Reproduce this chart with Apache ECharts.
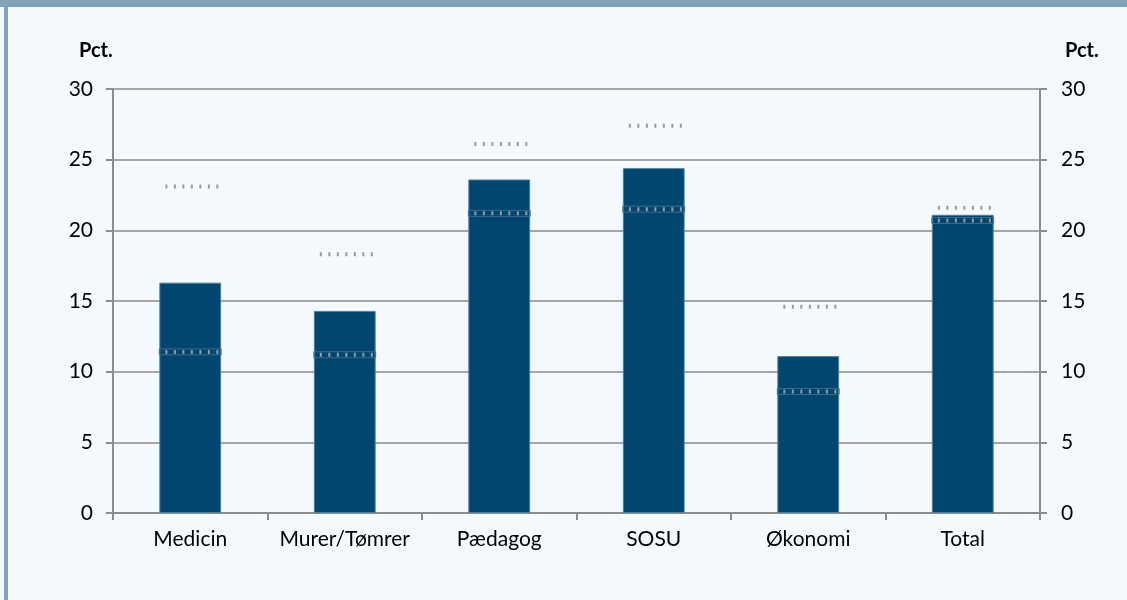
<!DOCTYPE html>
<html>
<head>
<meta charset="utf-8">
<script src="https://cdn.jsdelivr.net/npm/echarts@6/dist/echarts.min.js"></script>
<style>
  html, body { margin: 0; padding: 0; background: #f3f9fd; }
  #chart { width: 1127px; height: 600px; }
</style>
</head>
<body>
<div id="chart"></div>
<script>
// data
const categories = ['Medicin', 'Murer/Tømrer', 'Pædagog', 'SOSU', 'Økonomi', 'Total']
const barValues = [16.3, 14.3, 23.6, 24.4, 11.1, 21.1]
const upperMarks = [23.1, 18.3, 26.1, 27.4, 14.6, 21.6]
const lowerMarks = [11.4, 11.2, 21.2, 21.5, 8.6, 20.7]
const yTicks = [0, 5, 10, 15, 20, 25, 30]

const font = 'Lato, "Open Sans", sans-serif'
const barColor = '#00466e'
const gridColor = '#a6a6a6'
const axisColor = '#8c8c8c'

// dotted marker drawn across the bar width
function markerItem(inside) {
  return function (params, api) {
    const p = api.coord([api.value(0), api.value(1)])
    const w = api.size([1, 0])[0] * 0.4
    const x0 = p[0] - w / 2
    const children = []
    if (inside) {
      children.push({
        type: 'rect',
        shape: { x: x0, y: p[1] - 3, width: w, height: 6 },
        style: { fill: 'none', stroke: '#3a6b90', lineWidth: 1 }
      })
    }
    children.push({
      type: 'line',
      shape: { x1: x0 + 6, y1: p[1], x2: x0 + w, y2: p[1] },
      style: { stroke: '#9a9a9a', lineWidth: 4, lineDash: [2, 6.5] }
    })
    return { type: 'group', children: children }
  }
}

const yAxisBase = {
  type: 'value',
  min: yTicks[0],
  max: yTicks[yTicks.length - 1],
  interval: 5,
  axisLine: { show: true, lineStyle: { color: axisColor, width: 2 } },
  axisTick: { show: true, length: 7, lineStyle: { color: axisColor, width: 2 } },
  axisLabel: { color: '#000', fontSize: 21, fontFamily: font, margin: 20 }
}

const chart = echarts.init(document.getElementById('chart'))
chart.setOption({
  backgroundColor: '#f3f9fd',
  animation: false,
  graphic: [
    { type: 'rect', left: 0, top: 0, shape: { width: 1127, height: 7 }, style: { fill: '#7fa3b8' } },
    { type: 'rect', left: 4, top: 0, shape: { width: 4, height: 600 }, style: { fill: '#7fa3b8' } },
    { type: 'text', left: 79, top: 41, style: { text: 'Pct.', fill: '#000', font: 'bold 20px ' + font } },
    { type: 'text', left: 1065, top: 41, style: { text: 'Pct.', fill: '#000', font: 'bold 20px ' + font } }
  ],
  grid: { left: 113, right: 87, top: 89, bottom: 87 },
  xAxis: {
    type: 'category',
    data: categories,
    axisLine: { lineStyle: { color: axisColor, width: 2 } },
    axisTick: { show: true, interval: 0, length: 7, lineStyle: { color: axisColor, width: 2 } },
    axisLabel: { interval: 0, hideOverlap: false, color: '#000', fontSize: 21, fontFamily: font, margin: 16 }
  },
  yAxis: [
    Object.assign({}, yAxisBase, {
      position: 'left',
      splitLine: { show: true, lineStyle: { color: gridColor, width: 2 } }
    }),
    Object.assign({}, yAxisBase, {
      position: 'right',
      axisLabel: { color: '#000', fontSize: 21, fontFamily: font, margin: 21 },
      splitLine: { show: false }
    })
  ],
  series: [
    {
      type: 'bar',
      data: barValues,
      barWidth: '40%',
      itemStyle: { color: barColor, borderColor: '#4f7fa0', borderWidth: 1 },
      z: 2
    },
    {
      type: 'custom',
      renderItem: markerItem(false),
      data: upperMarks.map((v, i) => [i, v]),
      z: 3
    },
    {
      type: 'custom',
      renderItem: markerItem(true),
      data: lowerMarks.map((v, i) => [i, v]),
      z: 3
    }
  ]
})
</script>
</body>
</html>
